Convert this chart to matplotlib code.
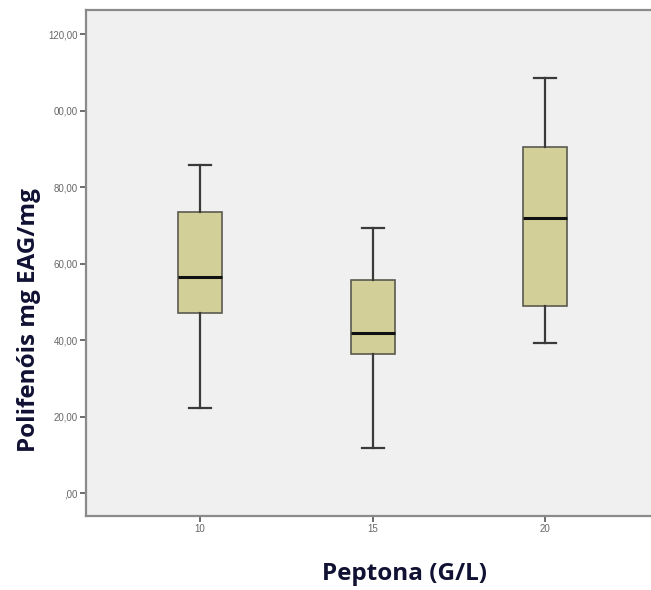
import matplotlib
matplotlib.use('Agg')
import matplotlib.pyplot as plt

# dados (Peptona G/L)
grupos = ['10', '15', '20']
whislo = [22.3, 11.9, 39.2]
q1 = [47.2, 36.3, 48.9]
mediana = [56.6, 41.8, 71.9]
q3 = [73.4, 55.7, 90.5]
whishi = [85.9, 69.4, 108.6]

y_ticks = [0, 20, 40, 60, 80, 100, 120]
y_labels = [',00', '20,00', '40,00', '60,00', '80,00', '00,00', '120,00']

stats = []
for i in range(len(grupos)):
    stats.append({'label': grupos[i], 'whislo': whislo[i], 'q1': q1[i],
                  'med': mediana[i], 'q3': q3[i], 'whishi': whishi[i], 'fliers': []})

fig = plt.figure(figsize=(6.51, 5.90), dpi=100)
fig.patch.set_facecolor('white')
ax = fig.add_axes([86/651, 1 - 516/590, 1 - 86/651, (516 - 10)/590])
ax.set_facecolor('#F0F0F0')

ax.bxp(stats, positions=range(len(grupos)), widths=0.255, capwidths=0.128,
       patch_artist=True, showfliers=False,
       boxprops=dict(facecolor='#D3CF98', edgecolor='#5a5a50', linewidth=1.2),
       medianprops=dict(color='#111111', linewidth=2.2),
       whiskerprops=dict(color='#3a3a3a', linewidth=1.6),
       capprops=dict(color='#3a3a3a', linewidth=1.6))

ax.set_xlim(-0.661, 2.614)
ax.set_ylim(-6.0, 126.3)
ax.set_yticks(y_ticks)
ax.set_yticklabels(y_labels)
ax.set_xticks(range(len(grupos)))
ax.set_xticklabels(grupos)

for s in ['left', 'bottom', 'top']:
    ax.spines[s].set_color('#8a8a8a')
    ax.spines[s].set_linewidth(1.6)
ax.spines['right'].set_visible(False)
ax.tick_params(axis='both', direction='out', length=4, width=1.2, color='#555555',
               labelsize=7, labelcolor='#666666', pad=2)
for lab in ax.get_xticklabels() + ax.get_yticklabels():
    lab.set_fontfamily('Liberation Sans')

# titulos dos eixos posicionados como no original
fig.text(404/651, 1 - 574/590, 'Peptona (G/L)', fontsize=17.5, fontweight='bold',
         color='#111133', family='Open Sans', ha='center', va='center')
fig.text(29/651, 1 - 320/590, 'Polifenóis mg EAG/mg', fontsize=17.5, fontweight='bold',
         color='#111133', family='Open Sans', ha='center', va='center', rotation=90)

fig.savefig('out.png', dpi=100)
